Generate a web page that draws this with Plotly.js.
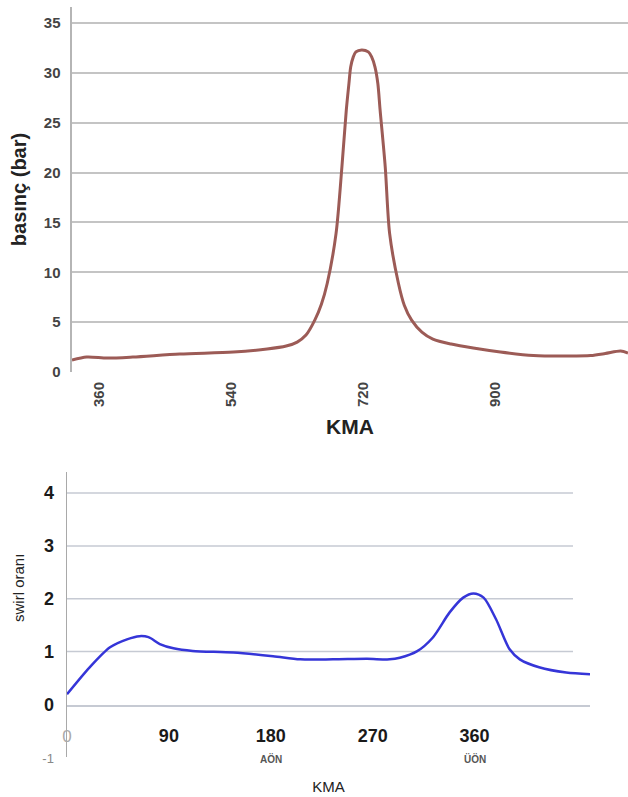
<!DOCTYPE html>
<html>
<head>
<meta charset="utf-8">
<script src="https://cdn.plot.ly/plotly-3.0.1.min.js"></script>
<style>html,body{margin:0;padding:0;background:#fff}#chart{width:628px;height:797px}</style>
</head>
<body>
<div id="chart"></div>
<script>
// Top chart: pressure vs crank angle
const pressureKMA = [323, 343, 371, 406, 470, 543, 589, 615, 630, 642, 654, 663, 671, 683, 691, 697, 700.5, 703, 706.5, 710, 718, 727, 731.5, 736, 740, 743, 750, 756, 768, 776, 786, 800, 815, 840, 870, 907, 952, 1000, 1030, 1050, 1071, 1081];
const pressureBar = [1.2, 1.5, 1.4, 1.5, 1.8, 2.0, 2.3, 2.6, 3.0, 3.7, 5.2, 6.8, 8.9, 13.9, 20.6, 26.3, 28.9, 30.6, 31.6, 32.1, 32.3, 32.1, 31.6, 30.6, 28.9, 26.3, 20.6, 13.9, 8.9, 6.7, 5.2, 4.0, 3.3, 2.8, 2.4, 2.0, 1.65, 1.6, 1.65, 1.85, 2.1, 1.9];
const pressureTicks = [360, 540, 720, 900];
const pressureYTicks = [0, 5, 10, 15, 20, 25, 30, 35];

// Bottom chart: swirl ratio vs crank angle
const swirlKMA = [0, 20, 38, 53, 64, 72, 82, 94, 111, 147, 182, 206, 235, 265, 285, 294, 309, 323, 338, 350, 359, 368, 379, 391, 400, 417, 441, 462];
const swirlRatio = [0.19, 0.7, 1.08, 1.23, 1.29, 1.27, 1.14, 1.06, 1.01, 0.98, 0.91, 0.85, 0.85, 0.86, 0.85, 0.88, 1.0, 1.26, 1.74, 2.02, 2.1, 2.02, 1.61, 1.04, 0.85, 0.7, 0.6, 0.57];
const swirlXTicks = [0, 90, 180, 270, 360];
const swirlXTickText = ['<span style="color:#aaa;font-weight:normal;font-size:17px">0</span>', '<b>90</b>', '<b>180</b>', '<b>270</b>', '<b>360</b>'];
const swirlYTicks = [-1, 0, 1, 2, 3, 4];
const swirlYTickText = ['<span style="color:#888;font-weight:normal;font-size:13px">-1</span>', '<b>0</b>', '<b>1</b>', '<b>2</b>', '<b>3</b>', '<b>4</b>'];
const phaseLabels = [{x: 180, text: '<b>AÖN</b>'}, {x: 360, text: '<b>ÜÖN</b>'}];
const swirlGrid = [1, 2, 3, 4];

const W = 628, H = 797;
const F = '"Liberation Sans", Arial, sans-serif';

const traces = [
  {x: pressureKMA, y: pressureBar, type: 'scatter', mode: 'lines',
   line: {color: '#9c5b56', width: 3, shape: 'spline', smoothing: 0.8}, xaxis: 'x', yaxis: 'y', hoverinfo: 'skip'},
  {x: swirlKMA, y: swirlRatio, type: 'scatter', mode: 'lines',
   line: {color: '#3535d8', width: 2.5, shape: 'spline', smoothing: 0.8}, xaxis: 'x2', yaxis: 'y2', hoverinfo: 'skip'}
];

const shapes = swirlGrid.map(v => ({type: 'line', xref: 'paper', yref: 'y2',
  x0: 67 / W, x1: 573 / W, y0: v, y1: v, line: {color: '#c6cad3', width: 1.5}, layer: 'below'}));

const annotations = phaseLabels.map(p => ({x: p.x, xref: 'x2', y: 1 - 759 / H, yref: 'paper',
  xanchor: 'center', yanchor: 'middle',
  text: p.text, showarrow: false, font: {family: F, size: 10, color: '#555'}}));
annotations.push({x: 18 / W, xref: 'paper', y: 1 - 588 / H, yref: 'paper', text: 'swirl oranı',
  xanchor: 'center', yanchor: 'middle',
  textangle: -90, showarrow: false, font: {family: F, size: 15, color: '#222'}});

const layout = {
  width: W, height: H,
  margin: {l: 0, r: 0, t: 0, b: 0},
  paper_bgcolor: '#fff', plot_bgcolor: 'rgba(0,0,0,0)',
  showlegend: false,
  font: {family: F},
  xaxis: {
    domain: [72 / W, 1], range: [323, 1081], anchor: 'y',
    tickmode: 'array', tickvals: pressureTicks, ticktext: pressureTicks.map(v => '<b>' + v + '</b>'),
    tickangle: -90, tickfont: {family: F, size: 15, color: '#444'},
    showgrid: false, zeroline: false, showline: false, ticks: '', ticklabelstandoff: 6,
    title: {text: '<b>KMA</b>', font: {family: F, size: 21, color: '#222'}, standoff: 13}
  },
  yaxis: {
    domain: [1 - 372 / H, 1 - 7 / H], range: [0, 36.6], anchor: 'x',
    tickmode: 'array', tickvals: pressureYTicks, ticktext: pressureYTicks.map(v => '<b>' + v + '</b>'),
    tickfont: {family: F, size: 15, color: '#444'},
    showgrid: true, gridcolor: '#c4c4c4', gridwidth: 2, zeroline: false,
    showline: true, linecolor: '#b5b5b5', linewidth: 2.5, ticks: '', ticklabelstandoff: 6,
    title: {text: '<b>basınç (bar)</b>', font: {family: F, size: 20, color: '#222'}, standoff: 12}
  },
  xaxis2: {
    domain: [67 / W, 590 / W], range: [0, 462], anchor: 'free', position: 1 - 705 / H,
    tickmode: 'array', tickvals: swirlXTicks, ticktext: swirlXTickText,
    tickfont: {family: F, size: 18, color: '#1a1a1a'},
    showgrid: false, zeroline: false, showline: true, linecolor: '#c6cad3', linewidth: 1.5,
    ticks: '', ticklabelstandoff: 14,
    title: {text: 'KMA', font: {family: F, size: 15, color: '#222'}, standoff: 36}
  },
  yaxis2: {
    domain: [1 - 757 / H, 1 - 472 / H], range: [-1, 4.4], anchor: 'x2',
    tickmode: 'array', tickvals: swirlYTicks, ticktext: swirlYTickText,
    tickfont: {family: F, size: 18, color: '#1a1a1a'},
    showgrid: false, zeroline: false,
    showline: true, linecolor: '#a9a9a9', linewidth: 1.5, ticks: '', ticklabelstandoff: 8
  },
  shapes: shapes,
  annotations: annotations
};

Plotly.newPlot('chart', traces, layout, {displayModeBar: false, staticPlot: true});
</script>
</body>
</html>
